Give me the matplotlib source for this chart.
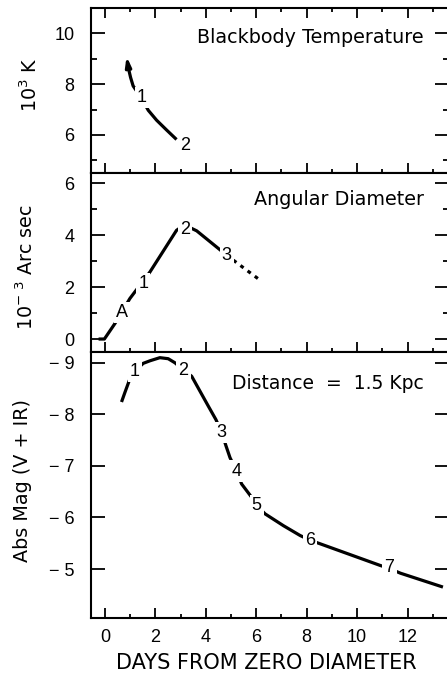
import matplotlib
matplotlib.use("Agg")
import matplotlib.pyplot as plt
from matplotlib.ticker import MultipleLocator, FixedLocator, FixedFormatter

plt.rcParams['font.family'] = ['Liberation Sans', 'DejaVu Sans']
plt.rcParams['mathtext.fontset'] = 'custom'
plt.rcParams['mathtext.rm'] = 'DejaVu Sans'
plt.rcParams['axes.linewidth'] = 1.5

# ---- data ----
temp_days = [0.86, 0.93, 1.02, 1.12, 1.45, 1.72, 2.05, 2.45, 2.84]
temp_kK = [9.1, 8.64, 8.26, 7.93, 7.45, 6.97, 6.58, 6.19, 5.82]
temp_labels = [("1", 1.46, 7.48), ("2", 3.2, 5.6)]

diam_days = [-0.25, -0.02, 0.4, 0.99, 1.79, 2.84, 3.15, 3.64, 4.5, 4.83]
diam_mas = [0.0, 0.0, 0.6, 1.56, 2.59, 4.19, 4.4, 4.17, 3.49, 3.23]
diam_dot_days = [5.09, 6.15]
diam_dot_mas = [3.04, 2.27]
diam_labels = [("A", 0.69, 1.02), ("1", 1.52, 2.14), ("2", 3.17, 4.22), ("3", 4.83, 3.23)]

mag_days = [0.66, 0.79, 0.97, 1.19, 1.52, 1.79, 2.18, 2.51, 2.78, 3.11, 3.44,
            3.77, 4.1, 4.4, 4.63, 4.8, 4.96, 5.22, 5.42, 5.82, 6.02, 6.35,
            7.08, 7.74, 8.13, 8.53, 10.91, 11.28, 11.71, 13.4]
mag_abs = [-8.24, -8.42, -8.66, -8.84, -8.99, -9.04, -9.10, -9.08, -9.0,
           -8.86, -8.74, -8.45, -8.16, -7.9, -7.65, -7.39, -7.16, -6.9, -6.65,
           -6.39, -6.23, -6.07, -5.84, -5.65, -5.56, -5.49, -5.07, -5.01,
           -4.92, -4.65]
mag_labels = [("1", 1.19, -8.84), ("2", 3.11, -8.86), ("3", 4.63, -7.65),
              ("4", 5.22, -6.9), ("5", 6.02, -6.23), ("6", 8.13, -5.55),
              ("7", 11.28, -5.02)]

x_ticks = [0, 2, 4, 6, 8, 10, 12]
mag_ticks = [-9, -8, -7, -6, -5]
mag_ticklabels = ["\u2212 9", "\u2212 8", "\u2212 7", "\u2212 6", "\u2212 5"]

# ---- figure ----
fig = plt.figure(figsize=(4.47, 6.86), dpi=100)
L = 91 / 447
W = 449 / 447 - L
H = 686.0
ax1 = fig.add_axes([L, (H - 173) / H, W, 165 / H])
ax2 = fig.add_axes([L, (H - 352) / H, W, 179 / H])
ax3 = fig.add_axes([L, (H - 618) / H, W, 266 / H])

lw = 2.3
fs = 12.5
tfs = 13.8
wfont = 'DejaVu Sans'
bbox = dict(boxstyle='square,pad=0.12', fc='white', ec='none')

for ax in (ax1, ax2, ax3):
    ax.set_xlim(-0.55, 13.64)
    ax.xaxis.set_major_locator(FixedLocator(x_ticks))
    ax.xaxis.set_minor_locator(MultipleLocator(1))
    ax.tick_params(axis='x', which='major', direction='in', length=7, width=1.3)
    ax.tick_params(axis='x', which='minor', direction='in', length=3, width=1.3)
    ax.tick_params(axis='y', which='major', direction='in', length=10, width=1.3,
                   right=True, labelsize=fs + 0.5, pad=12)
    ax.tick_params(axis='y', which='minor', direction='in', length=4.5, width=1.3,
                   right=True)
    ax.spines['right'].set_visible(False)

ax1.tick_params(axis='x', which='both', top=True, labelbottom=False)
ax2.tick_params(axis='x', which='both', labelbottom=False)
ax3.tick_params(axis='x', which='major', labelsize=fs + 0.5, pad=8)

# top panel
ax1.set_ylim(4.5, 11.0)
ax1.yaxis.set_major_locator(FixedLocator([6, 8, 10]))
ax1.yaxis.set_minor_locator(FixedLocator([5, 7, 9]))
ax1.plot(temp_days[1:], temp_kK[1:], color='black', lw=lw, solid_capstyle='butt', zorder=2)
ax1.annotate('', xy=(temp_days[0], temp_kK[0]), xytext=(temp_days[1], temp_kK[1]),
             arrowprops=dict(arrowstyle='-|>,head_length=0.55,head_width=0.16',
                             color='black', lw=lw, shrinkA=0, shrinkB=0))
for t, x, y in temp_labels:
    ax1.text(x, y, t, fontsize=fs + 0.5, ha='center', va='center', bbox=bbox, zorder=3)
ax1.text(0.93, 0.82, "Blackbody Temperature", transform=ax1.transAxes,
         fontsize=tfs, family=wfont, ha='right', va='center')

# middle panel
ax2.set_ylim(-0.5, 6.4)
ax2.yaxis.set_major_locator(FixedLocator([0, 2, 4, 6]))
ax2.yaxis.set_minor_locator(FixedLocator([1, 3, 5]))
ax2.plot(diam_days, diam_mas, color='black', lw=lw, solid_capstyle='butt', zorder=2)
ax2.plot(diam_dot_days, diam_dot_mas, color='black', lw=lw, ls=(0, (1.2, 1.6)), zorder=2)
for t, x, y in diam_labels:
    ax2.text(x, y, t, fontsize=fs + 0.5, ha='center', va='center', bbox=bbox, zorder=3)
ax2.text(0.93, 0.85, "Angular Diameter", transform=ax2.transAxes,
         fontsize=tfs, family=wfont, ha='right', va='center')

# bottom panel
ax3.set_ylim(-4.05, -9.21)
ax3.yaxis.set_major_locator(FixedLocator(mag_ticks))
ax3.yaxis.set_major_formatter(FixedFormatter(mag_ticklabels))
ax3.plot(mag_days, mag_abs, color='black', lw=lw, solid_capstyle='butt',
         solid_joinstyle='round', zorder=2)
for t, x, y in mag_labels:
    ax3.text(x, y, t, fontsize=fs + 0.5, ha='center', va='center', bbox=bbox, zorder=3)
ax3.text(0.93, 0.883, "Distance  =  1.5 Kpc", transform=ax3.transAxes,
         fontsize=tfs - 0.3, family=wfont, ha='right', va='center')

# axis labels
fig.text(266 / 447, 1 - 663 / H, "DAYS FROM ZERO DIAMETER", fontsize=15,
         family=wfont, ha='center', va='center')
fig.text(30 / 447, 1 - 85 / H, r"10$^{\mathrm{3}}$ K", fontsize=tfs, family=wfont,
         rotation=90, ha='center', va='center')
fig.text(26 / 447, 1 - 267 / H, r"10$^{\mathrm{-\ 3}}$ Arc sec", fontsize=tfs,
         family=wfont, rotation=90, ha='center', va='center')
fig.text(23 / 447, 1 - 481 / H, "Abs Mag (V + IR)", fontsize=tfs, family=wfont,
         rotation=90, ha='center', va='center')

fig.savefig("out.png", dpi=100)
